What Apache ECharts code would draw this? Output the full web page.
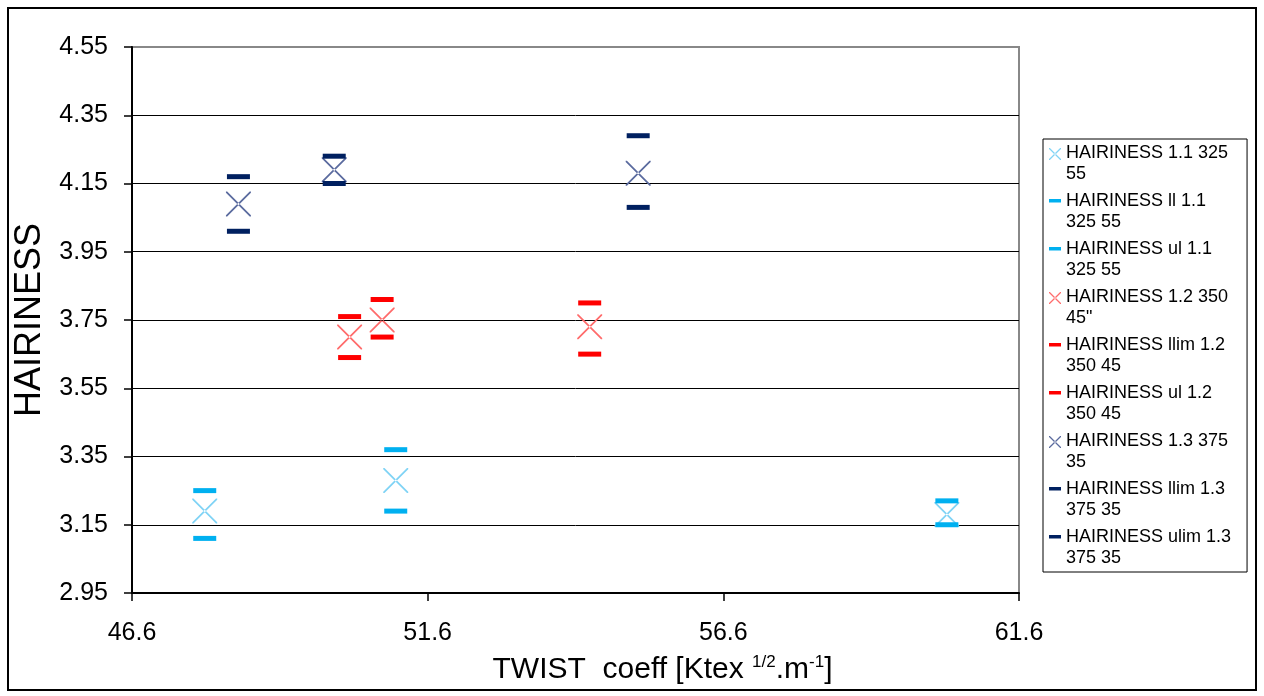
<!DOCTYPE html>
<html>
<head>
  <meta charset="utf-8" />
  <title>Hairiness</title>
  <style>
    html, body { margin: 0; padding: 0; background: #fff; }
    #main { width: 1264px; height: 696px; }
  </style>
</head>
<body>
  <div id="main"></div>
  <script src="https://cdn.jsdelivr.net/npm/echarts@6/dist/echarts.min.js"></script>
  <script>
    // twist coefficient of each yarn
    let twist11 = [47.83, 51.06, 60.38];
    let twist12 = [50.28, 50.83, 54.34];
    let twist13 = [48.40, 50.02, 55.16];

    // hairiness: mean, lower limit, upper limit
    let hair11 = [3.19, 3.28, 3.18];
    let ll11 = [3.11, 3.19, 3.15];
    let ul11 = [3.25, 3.37, 3.22];

    let hair12 = [3.70, 3.75, 3.73];
    let ll12 = [3.64, 3.70, 3.65];
    let ul12 = [3.76, 3.81, 3.80];

    let hair13 = [4.09, 4.19, 4.18];
    let ll13 = [4.01, 4.15, 4.08];
    let ul13 = [4.17, 4.23, 4.29];

    let seriesNames = [
      "HAIRINESS 1.1 325 55",
      "HAIRINESS ll 1.1 325 55",
      "HAIRINESS ul 1.1 325 55",
      'HAIRINESS 1.2 350 45"',
      "HAIRINESS llim 1.2 350 45",
      "HAIRINESS ul 1.2 350 45",
      "HAIRINESS 1.3 375 35",
      "HAIRINESS llim 1.3 375 35",
      "HAIRINESS ulim 1.3 375 35",
    ];
    let legendText = [
      "HAIRINESS 1.1 325\n55",
      "HAIRINESS ll 1.1\n325 55",
      "HAIRINESS ul 1.1\n325 55",
      'HAIRINESS 1.2 350\n45"',
      "HAIRINESS llim 1.2\n350 45",
      "HAIRINESS ul 1.2\n350 45",
      "HAIRINESS 1.3 375\n35",
      "HAIRINESS llim 1.3\n375 35",
      "HAIRINESS ulim 1.3\n375 35",
    ];

    const FONT = "Liberation Sans";
    const crossPath = "path://M0,0L1.2,0L24,22.8L24,24L22.8,24L0,1.2ZM24,0L22.8,0L0,22.8L0,24L1.2,24L24,1.2Z";
    const crossIcon = "path://M0,0L0,0M0,5L0.9,5L12,16.1L12,17L11.1,17L0,5.9ZM12,5L11.1,5L0,16.1L0,17L0.9,17L12,5.9ZM0,42L0,42";
    const dashIcon = "path://M0,0L0,0M0,8L12,8L12,11.5L0,11.5ZM0,42L0,42";

    function zip(xs, ys) {
      return xs.map((x, i) => [x, ys[i]]);
    }

    function markSeries(name, xs, ys, isCross, color) {
      return {
        name: name,
        type: "scatter",
        data: zip(xs, ys),
        symbol: isCross ? crossPath : "rect",
        symbolSize: isCross ? 25 : [23, 5],
        itemStyle: { color: color, opacity: 1 },
        emphasis: { disabled: true },
        z: isCross ? 3 : 4,
      };
    }

    let series = [
      markSeries(seriesNames[0], twist11, hair11, true, "#7fd3f5"),
      markSeries(seriesNames[1], twist11, ll11, false, "#00B0F0"),
      markSeries(seriesNames[2], twist11, ul11, false, "#00B0F0"),
      markSeries(seriesNames[3], twist12, hair12, true, "#ff6b6b"),
      markSeries(seriesNames[4], twist12, ll12, false, "#FF0000"),
      markSeries(seriesNames[5], twist12, ul12, false, "#FF0000"),
      markSeries(seriesNames[6], twist13, hair13, true, "#5a6a9e"),
      markSeries(seriesNames[7], twist13, ll13, false, "#002060"),
      markSeries(seriesNames[8], twist13, ul13, false, "#002060"),
    ];

    option = {
      animation: false,
      backgroundColor: "#fff",
      graphic: [
        {
          type: "rect",
          z: -10,
          shape: { x: 8, y: 8, width: 1248, height: 682 },
          style: { fill: "none", stroke: "#000", lineWidth: 2 },
        },
      ],
      grid: {
        left: 132,
        top: 47,
        right: 245,
        bottom: 103,
        show: true,
        borderColor: "#888",
        borderWidth: 2,
      },
      legend: {
        orient: "vertical",
        left: 1043,
        top: 139,
        padding: [4, 16, 3, 6],
        itemGap: 6,
        itemWidth: 12,
        itemHeight: 42,
        borderColor: "#000",
        borderWidth: 1,
        selectedMode: false,
        data: seriesNames.map((n, i) => ({
          name: n,
          icon: i % 3 === 0 ? crossIcon : dashIcon,
        })),
        formatter: function (name) {
          return legendText[seriesNames.indexOf(name)];
        },
        textStyle: {
          fontFamily: FONT,
          fontSize: 18,
          lineHeight: 21,
          color: "#000",
        },
      },
      xAxis: {
        type: "value",
        min: 46.6,
        max: 61.6,
        interval: 5,
        name: "TWIST  coeff [Ktex {sup|1/2}.m{sup|-1}]",
        nameLocation: "middle",
        nameGap: 61,
        nameTextStyle: {
          fontFamily: FONT,
          fontSize: 30,
          lineHeight: 32,
          color: "#000",
          padding: [0, 0, 0, 174],
          rich: {
            sup: {
              fontFamily: FONT,
              fontSize: 17,
              lineHeight: 32,
              verticalAlign: "top",
              color: "#000",
            },
          },
        },
        axisLine: { show: true, lineStyle: { color: "#000", width: 2 } },
        axisTick: { show: true, length: 8, lineStyle: { color: "#000", width: 1.5 } },
        axisLabel: {
          margin: 28,
          fontFamily: FONT,
          fontSize: 25,
          color: "#000",
          formatter: (v) => v.toFixed(1),
        },
        splitLine: { show: false },
      },
      yAxis: {
        type: "value",
        min: 2.95,
        max: 4.55,
        interval: 0.2,
        name: "HAIRINESS",
        nameLocation: "middle",
        nameGap: 72,
        nameTextStyle: {
          fontFamily: FONT,
          fontSize: 36,
          color: "#000",
        },
        axisLine: { show: true, lineStyle: { color: "#000", width: 2 } },
        axisTick: { show: true, length: 8, lineStyle: { color: "#000", width: 1.5 } },
        axisLabel: {
          margin: 24,
          fontFamily: FONT,
          fontSize: 25,
          color: "#000",
          formatter: (v) => v.toFixed(2),
        },
        splitLine: {
          show: true,
          showMaxLine: false,
          lineStyle: { color: "#000", width: 1 },
        },
      },
      series: series,
    };

    chart = echarts.init(document.getElementById("main"));
    chart.setOption(option);

    window.onresize = function () {
      chart.resize();
    };
  </script>
</body>
</html>
